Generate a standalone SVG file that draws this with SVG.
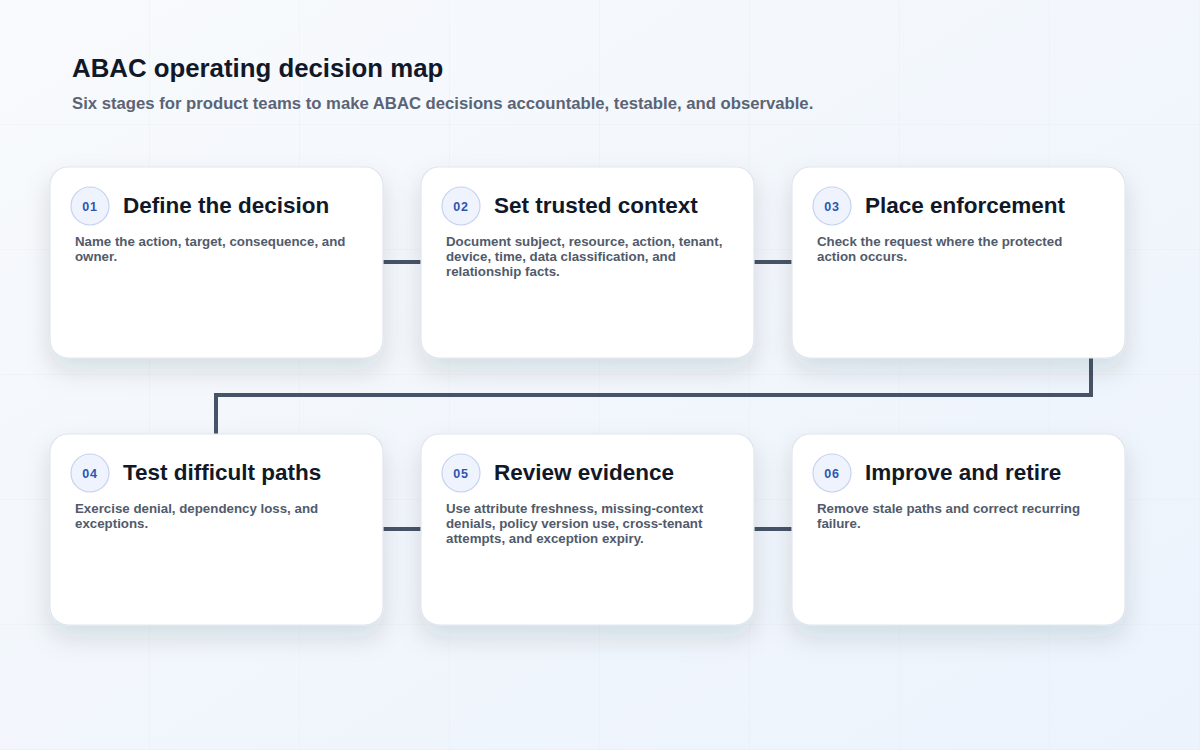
<svg xmlns="http://www.w3.org/2000/svg" width="1200" height="750" viewBox="0 0 1200 750">
<defs>
<linearGradient id="bg" x1="0" y1="0" x2="1" y2="1">
<stop offset="0" stop-color="#f8fafc"/>
<stop offset="1" stop-color="#ecf3fd"/>
</linearGradient>
<pattern id="grid" width="150" height="125" patternUnits="userSpaceOnUse">
<path d="M150 0V125M0 125H150" fill="none" stroke="#e3e8ef" stroke-width="1" opacity="0.6"/>
</pattern>
<filter id="shadow" x="-20%" y="-20%" width="140%" height="170%">
<feDropShadow dx="0" dy="12" stdDeviation="12" flood-color="#1e293b" flood-opacity="0.13"/>
</filter>
<style>
.card{fill:#ffffff;stroke:#dfe5ee;stroke-width:1.2;filter:url(#shadow)}
.badge{fill:#eef3fd;stroke:#c6d3ee;stroke-width:1.2}
.num{font-family:"Liberation Sans",Arial,sans-serif;font-size:12.5px;font-weight:700;fill:#2d56b0;text-anchor:middle;letter-spacing:0.8px}
.title{font-family:"Liberation Sans",Arial,sans-serif;font-size:22.5px;font-weight:700;fill:#111827}
.body{font-family:"Liberation Sans",Arial,sans-serif;font-size:13.3px;font-weight:700;fill:#515b6b}
.conn{fill:none;stroke:#475467;stroke-width:4}
</style>
</defs>
<rect width="1200" height="750" fill="url(#bg)"/>
<rect width="1200" height="750" fill="url(#grid)"/>
<text x="72" y="77" font-family="Liberation Sans,Arial,sans-serif" font-size="25.8" font-weight="700" fill="#111827">ABAC operating decision map</text>
<text x="72" y="109" font-family="Liberation Sans,Arial,sans-serif" font-size="16.7" font-weight="700" fill="#5b6475">Six stages for product teams to make ABAC decisions accountable, testable, and observable.</text>
<g id="connectors">
<path class="conn" d="M383 262H421"/>
<path class="conn" d="M754 262H792"/>
<path class="conn" d="M1091 358V395H216V434"/>
<path class="conn" d="M383 529H421"/>
<path class="conn" d="M754 529H792"/>
</g>
<g id="node1">
<rect class="card" x="50" y="167" width="333" height="191" rx="18"/>
<circle class="badge" cx="90" cy="206" r="19"/>
<text class="num" x="90" y="211">01</text>
<text class="title" x="123" y="213">Define the decision</text>
<text class="body" x="75" y="246">Name the action, target, consequence, and</text>
<text class="body" x="75" y="261">owner.</text>
</g>
<g id="node2">
<rect class="card" x="421" y="167" width="333" height="191" rx="18"/>
<circle class="badge" cx="461" cy="206" r="19"/>
<text class="num" x="461" y="211">02</text>
<text class="title" x="494" y="213">Set trusted context</text>
<text class="body" x="446" y="246">Document subject, resource, action, tenant,</text>
<text class="body" x="446" y="261">device, time, data classification, and</text>
<text class="body" x="446" y="276">relationship facts.</text>
</g>
<g id="node3">
<rect class="card" x="792" y="167" width="333" height="191" rx="18"/>
<circle class="badge" cx="832" cy="206" r="19"/>
<text class="num" x="832" y="211">03</text>
<text class="title" x="865" y="213">Place enforcement</text>
<text class="body" x="817" y="246">Check the request where the protected</text>
<text class="body" x="817" y="261">action occurs.</text>
</g>
<g id="node4">
<rect class="card" x="50" y="434" width="333" height="191" rx="18"/>
<circle class="badge" cx="90" cy="473" r="19"/>
<text class="num" x="90" y="478">04</text>
<text class="title" x="123" y="480">Test difficult paths</text>
<text class="body" x="75" y="513">Exercise denial, dependency loss, and</text>
<text class="body" x="75" y="528">exceptions.</text>
</g>
<g id="node5">
<rect class="card" x="421" y="434" width="333" height="191" rx="18"/>
<circle class="badge" cx="461" cy="473" r="19"/>
<text class="num" x="461" y="478">05</text>
<text class="title" x="494" y="480">Review evidence</text>
<text class="body" x="446" y="513">Use attribute freshness, missing-context</text>
<text class="body" x="446" y="528">denials, policy version use, cross-tenant</text>
<text class="body" x="446" y="543">attempts, and exception expiry.</text>
</g>
<g id="node6">
<rect class="card" x="792" y="434" width="333" height="191" rx="18"/>
<circle class="badge" cx="832" cy="473" r="19"/>
<text class="num" x="832" y="478">06</text>
<text class="title" x="865" y="480">Improve and retire</text>
<text class="body" x="817" y="513">Remove stale paths and correct recurring</text>
<text class="body" x="817" y="528">failure.</text>
</g>
</svg>
